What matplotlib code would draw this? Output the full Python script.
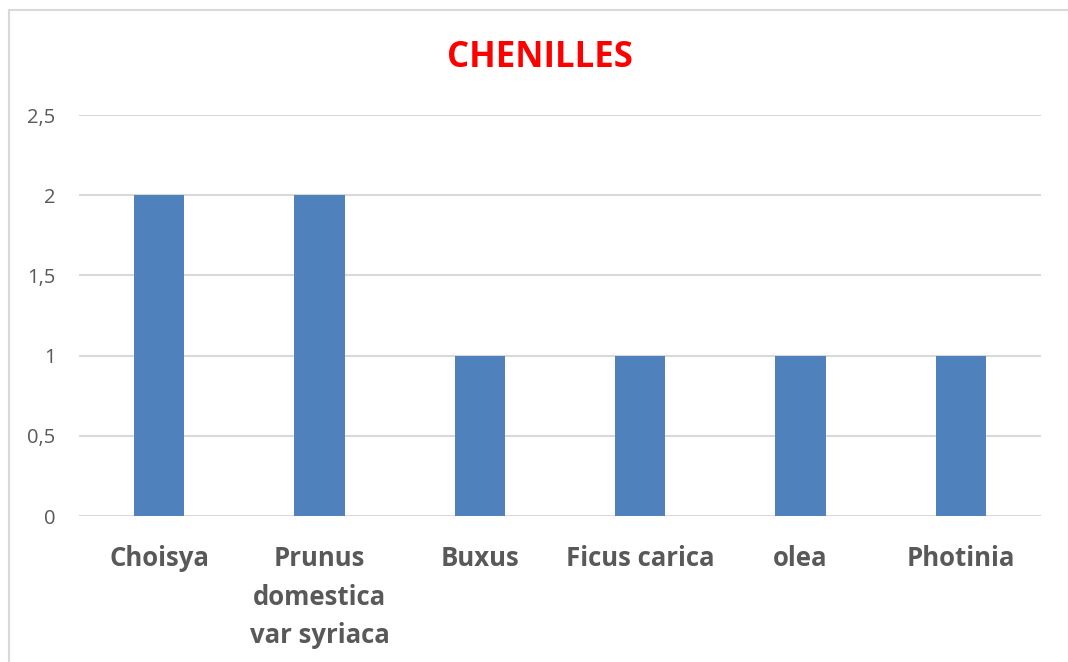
import matplotlib
matplotlib.use("Agg")
import matplotlib.pyplot as plt
from matplotlib.lines import Line2D

categories = ["Choisya", "Prunus\ndomestica\nvar syriaca", "Buxus", "Ficus carica", "olea", "Photinia"]
values = [2, 2, 1, 1, 1, 1]
yticks = [0, 0.5, 1, 1.5, 2, 2.5]
ytick_labels = ["0", "0,5", "1", "1,5", "2", "2,5"]
title = "CHENILLES"

fig = plt.figure(figsize=(10.68, 6.62), dpi=100)
# chart frame (only top and left edges visible)
fx, fy = 8.5/1068, 1 - 9.5/662
fig.add_artist(Line2D([fx, 1.0], [fy, fy], transform=fig.transFigure, color="#d9d9d9", linewidth=1.5))
fig.add_artist(Line2D([fx, fx], [0.0, fy], transform=fig.transFigure, color="#d9d9d9", linewidth=1.5))

ax = fig.add_axes([79/1068, 146/662, (1041-79)/1068, (516-115)/662])

x = range(len(categories))
ax.bar(x, values, width=0.312, color="#4f81bd", zorder=3)
ax.set_xlim(-0.5, len(categories) - 0.5)
ax.set_ylim(0, 2.5)
ax.set_yticks(yticks)
ax.set_yticklabels(ytick_labels, fontsize=14.5, color="#595959", family="Open Sans")
ax.set_xticks(list(x))
ax.set_xticklabels(categories, fontsize=18.5, fontweight="bold", color="#595959",
                   family="Open Sans", linespacing=1.55, va="top")
ax.tick_params(axis="both", length=0)
ax.tick_params(axis="y", pad=17)
ax.tick_params(axis="x", pad=21)
ax.grid(axis="y", color="#d9d9d9", linewidth=1.5, zorder=0)
for s in ax.spines.values():
    s.set_visible(False)

fig.text(540/1068, 1 - 58/662, title, ha="center", va="center", fontsize=25,
         fontweight="bold", color="#ff0000", family="Open Sans")

fig.savefig("out.png", dpi=100)
